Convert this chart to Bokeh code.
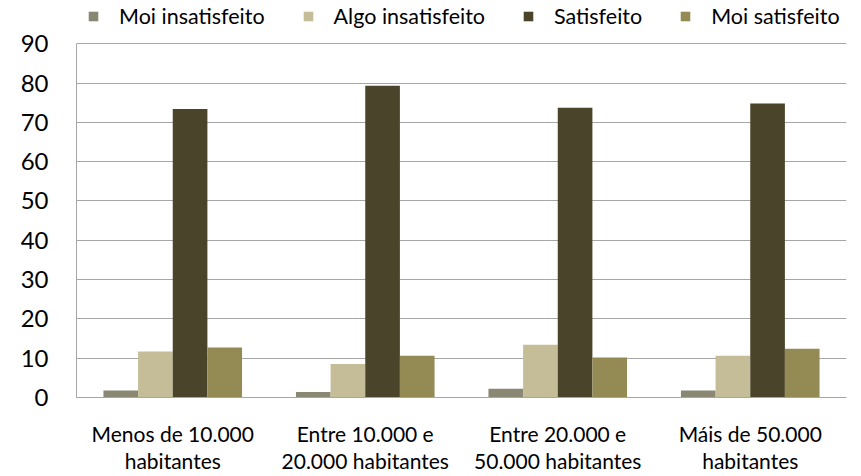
from bokeh.plotting import figure
from bokeh.models import Range1d, FixedTicker, Legend, LegendItem
from bokeh.embed import file_html
from bokeh.resources import INLINE

categories = ["Menos de 10.000\nhabitantes", "Entre 10.000 e\n20.000 habitantes",
              "Entre 20.000 e\n50.000 habitantes", "Máis de 50.000\nhabitantes"]
series_names = ["Moi insatisfeito", "Algo insatisfeito", "Satisfeito", "Moi satisfeito"]
moi_insatisfeito = [1.8, 1.4, 2.2, 1.8]
algo_insatisfeito = [11.7, 8.5, 13.4, 10.6]
satisfeito = [73.4, 79.3, 73.7, 74.8]
moi_satisfeito = [12.7, 10.6, 10.2, 12.4]
colors = ["#8a8772", "#c4bd97", "#4a452a", "#948a54"]
y_ticks = [0, 10, 20, 30, 40, 50, 60, 70, 80, 90]

FONT = "Lato"

# frame extends above the 90 line to leave room for the legend (axis line bounded to 0-90)
p = figure(width=861, height=476, output_backend="svg", toolbar_location=None,
           x_range=Range1d(0, len(categories)), y_range=Range1d(0, 101),
           min_border_left=76, min_border_right=15, min_border_top=0, min_border_bottom=71)
p.outline_line_color = None

centers = [i + 0.5 for i in range(len(categories))]
offsets = [-0.27, -0.09, 0.09, 0.27]
bw = 0.18
renderers = []
for vals, off, col in zip([moi_insatisfeito, algo_insatisfeito, satisfeito, moi_satisfeito], offsets, colors):
    r = p.vbar(x=[c + off for c in centers], top=vals, bottom=0, width=bw,
               fill_color=col, line_color=None)
    renderers.append(r)

p.xgrid.grid_line_color = None
p.ygrid.grid_line_color = "#a6a6a6"
p.ygrid.grid_line_width = 1
p.ygrid.ticker = FixedTicker(ticks=y_ticks)

p.yaxis.ticker = FixedTicker(ticks=y_ticks)
p.yaxis.bounds = (0, 90)
p.yaxis.axis_line_color = "#a6a6a6"
p.yaxis.major_tick_line_color = None
p.yaxis.minor_tick_line_color = None
p.yaxis.major_label_text_font = FONT
p.yaxis.major_label_text_font_size = "24px"
p.yaxis.major_label_text_color = "#000000"
p.yaxis.major_label_standoff = 22

p.xaxis.ticker = FixedTicker(ticks=centers)
p.xaxis.major_label_overrides = {c: lab for c, lab in zip(centers, categories)}
p.xaxis.axis_line_color = "#a6a6a6"
p.xaxis.major_tick_line_color = None
p.xaxis.minor_tick_line_color = None
p.xaxis.major_label_text_font = FONT
p.xaxis.major_label_text_font_size = "21px"
p.xaxis.major_label_text_color = "#000000"
p.xaxis.major_label_standoff = 17
p.xaxis.major_label_text_line_height = 1.1

legend = Legend(items=[LegendItem(label=n, renderers=[r]) for n, r in zip(series_names, renderers)],
                orientation="horizontal", location=(11, 368),
                glyph_width=12, glyph_height=12, label_standoff=20, spacing=37,
                padding=0, margin=0, border_line_color=None, background_fill_alpha=0,
                label_text_font=FONT, label_text_font_size="21.5px", label_text_color="#000000")
p.add_layout(legend, "center")

open("out.html", "w").write(file_html(p, INLINE))
